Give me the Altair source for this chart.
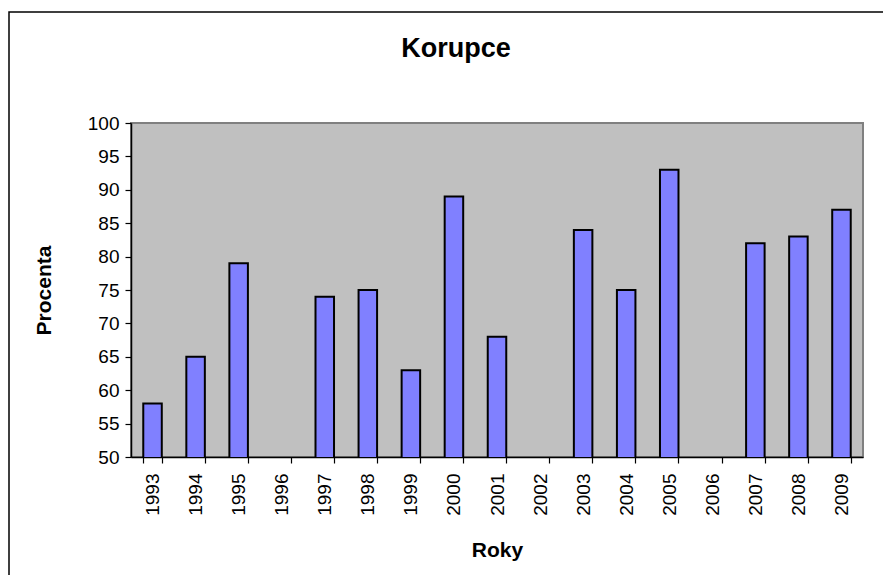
import altair as alt
import pandas as pd

categories = ["1993", "1994", "1995", "1996", "1997", "1998", "1999", "2000", "2001",
              "2002", "2003", "2004", "2005", "2006", "2007", "2008", "2009"]
years = ["1993", "1994", "1995", "1997", "1998", "1999", "2000", "2001",
         "2003", "2004", "2005", "2007", "2008", "2009"]
values = [58, 65, 79, 74, 75, 63, 89, 68, 84, 75, 93, 82, 83, 87]
y_ticks = [50, 55, 60, 65, 70, 75, 80, 85, 90, 95, 100]

df = pd.DataFrame({"Rok": years, "Procenta": values})

FONT = "Liberation Sans"

bars = alt.Chart(df).mark_bar(
    fill="#8080FF", stroke="black", strokeWidth=2, clip=True
).encode(
    x=alt.X("Rok:N",
            scale=alt.Scale(domain=categories, paddingInner=0.57, paddingOuter=0.285),
            axis=alt.Axis(title="Roky", labelAngle=-90, tickBand="extent",
                          labelOverlap=False, tickSize=6, labelPadding=10,
                          titlePadding=24)),
    y=alt.Y("Procenta:Q",
            scale=alt.Scale(domain=[50, 100], nice=False, zero=False),
            axis=alt.Axis(title="Procenta", values=y_ticks, grid=False,
                          tickSize=6, labelPadding=6, titlePadding=33)),
)

frame = alt.Chart(pd.DataFrame({"a": [0]})).mark_rect(
    fill=None, stroke="black", strokeWidth=1.5, filled=False
).encode(
    x=alt.value(-122), x2=alt.value(900), y=alt.value(-111), y2=alt.value(600)
)

chart = alt.layer(frame, bars).properties(
    width=732,
    height=334,
    title=alt.TitleParams("Korupce", fontSize=27, font=FONT, fontWeight="bold",
                          anchor="middle", dx=-41, offset=-52, color="black"),
    autosize=alt.AutoSizeParams(type="none"),
    padding={"left": 123, "top": 115, "right": 20, "bottom": 118},
).configure_view(
    fill="#C0C0C0", stroke="#808080", strokeWidth=2
).configure_axis(
    labelFont=FONT, titleFont=FONT, labelFontSize=19, titleFontSize=21,
    labelColor="black", titleColor="black", titleFontWeight="bold",
    domainColor="black", domainWidth=1.5, tickColor="black", tickWidth=1.2,
)

chart.save("out.html", embed_options={"renderer": "svg", "actions": False})
